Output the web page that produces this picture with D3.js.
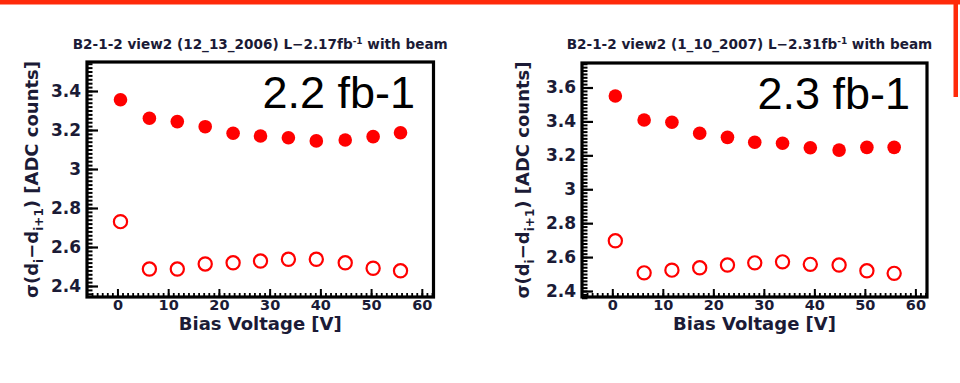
<!DOCTYPE html>
<html>
<head>
<meta charset="utf-8">
<script src="https://cdn.jsdelivr.net/npm/d3@7"></script>
<style>
  html, body { margin: 0; padding: 0; background: #fff; }
  svg { display: block; }
  .tick text { font-family: "DejaVu Sans", sans-serif; font-weight: bold; fill: #1b1b36; }
</style>
</head>
<body>
<svg id="chart" width="960" height="383"></svg>
<script>
// Bias scan points (V), shared by both runs
const biasVoltage = [0.6, 6.3, 11.8, 17.3, 22.8, 28.2, 33.7, 39.2, 44.9, 50.4, 55.8];

// Run 12_13_2006 (2.17 fb^-1): noise width, filled and open markers
const noiseFilledRun1 = [3.355, 3.26, 3.243, 3.217, 3.183, 3.169, 3.16, 3.144, 3.149, 3.166, 3.186];
const noiseOpenRun1   = [2.73, 2.487, 2.487, 2.513, 2.519, 2.528, 2.537, 2.537, 2.519, 2.491, 2.478];

// Run 1_10_2007 (2.31 fb^-1)
const noiseFilledRun2 = [3.55, 3.408, 3.395, 3.33, 3.306, 3.277, 3.271, 3.245, 3.231, 3.247, 3.247];
const noiseOpenRun2   = [2.696, 2.507, 2.523, 2.537, 2.553, 2.566, 2.572, 2.557, 2.553, 2.519, 2.504];

// Tick labels
const xTickValues = [0, 10, 20, 30, 40, 50, 60];
const yTickValuesRun1 = [2.4, 2.6, 2.8, 3.0, 3.2, 3.4];
const yTickValuesRun2 = [2.4, 2.6, 2.8, 3.0, 3.2, 3.4, 3.6];

// Panel texts
const titlesMain = ["B2-1-2 view2 (12_13_2006) L\u22122.17fb", "B2-1-2 view2 (1_10_2007) L\u22122.31fb"];
const titleTail = " with beam";
const lumiLabels = ["2.2 fb-1", "2.3 fb-1"];
const xAxisTitle = "Bias Voltage [V]";

const svg = d3.select("#chart");
const ink = "#1b1b36";
const red = "#ff0000";

// Slide decoration: red rule along the top and right edge
svg.append("rect").attr("x", 0).attr("y", 0).attr("width", 960).attr("height", 4.5).attr("fill", "#ff2a0a");
svg.append("rect").attr("x", 953.5).attr("y", 0).attr("width", 4.5).attr("height", 97).attr("fill", "#ff2a0a");

function range(a, b, step) {
  const out = [];
  for (let v = a; v <= b + 1e-9; v += step) out.push(+v.toFixed(4));
  return out;
}

function drawPanel(p) {
  const g = svg.append("g");
  const x = d3.scaleLinear().domain(p.xDomain).range([p.left, p.right]);
  const y = d3.scaleLinear().domain(p.yDomain).range([p.bottom, p.top]);

  // minor ticks
  g.append("g").attr("transform", `translate(${p.left},0)`)
    .call(d3.axisLeft(y).tickValues(range(2.36, p.yDomain[1], 0.02)).tickSize(-5.5).tickFormat(""))
    .call(a => a.select(".domain").remove())
    .call(a => a.selectAll("line").attr("stroke", "#000").attr("stroke-width", 2));
  g.append("g").attr("transform", `translate(0,${p.bottom})`)
    .call(d3.axisBottom(x).tickValues(range(-5, 62, 1)).tickSize(-4).tickFormat(""))
    .call(a => a.select(".domain").remove())
    .call(a => a.selectAll("line").attr("stroke", "#000").attr("stroke-width", 1.8));

  // major ticks with labels
  g.append("g").attr("transform", `translate(${p.left},0)`)
    .call(d3.axisLeft(y).tickValues(p.yTicks).tickSize(-11).tickPadding(6).tickFormat(d3.format("~g")))
    .call(a => a.select(".domain").remove())
    .call(a => a.selectAll("line").attr("stroke", "#000").attr("stroke-width", 2.2))
    .call(a => a.selectAll("text").style("font-size", "17px"));
  g.append("g").attr("transform", `translate(0,${p.bottom})`)
    .call(d3.axisBottom(x).tickValues(xTickValues).tickSize(-8).tickPadding(3))
    .call(a => a.select(".domain").remove())
    .call(a => a.selectAll("line").attr("stroke", "#000").attr("stroke-width", 2))
    .call(a => a.selectAll("text").style("font-size", "14.5px"));

  // frame
  g.append("rect")
    .attr("x", p.left).attr("y", p.top)
    .attr("width", p.right - p.left).attr("height", p.bottom - p.top)
    .attr("fill", "none").attr("stroke", "#000").attr("stroke-width", 3.2);

  // filled markers
  g.append("g").selectAll("circle").data(p.filled).join("circle")
    .attr("cx", (d, i) => x(biasVoltage[i]))
    .attr("cy", d => y(d))
    .attr("r", 6.8)
    .attr("fill", red);

  // open markers
  g.append("g").selectAll("circle").data(p.open).join("circle")
    .attr("cx", (d, i) => x(biasVoltage[i]))
    .attr("cy", d => y(d))
    .attr("r", 6.6)
    .attr("fill", "none")
    .attr("stroke", red)
    .attr("stroke-width", 2.2);

  // title
  const t = g.append("text")
    .attr("x", (p.left + p.right) / 2 + p.titleShift).attr("y", 49)
    .attr("text-anchor", "middle")
    .attr("font-family", "DejaVu Sans, sans-serif").attr("font-weight", "bold")
    .attr("font-size", 13.6).attr("fill", ink);
  t.append("tspan").text(p.title);
  t.append("tspan").attr("dy", -5).attr("font-size", 9).text("-1");
  t.append("tspan").attr("dy", 5).text(titleTail);

  // x-axis title
  g.append("text")
    .attr("x", (p.left + p.right) / 2).attr("y", 330)
    .attr("text-anchor", "middle")
    .attr("font-family", "DejaVu Sans, sans-serif").attr("font-weight", "bold")
    .attr("font-size", 18).attr("fill", ink)
    .text(xAxisTitle);

  // y-axis title
  const yl = g.append("text")
    .attr("transform", `translate(${p.yTitleX},${(p.top + p.bottom) / 2}) rotate(-90)`)
    .attr("text-anchor", "middle")
    .attr("font-family", "DejaVu Sans, sans-serif").attr("font-weight", "bold")
    .attr("font-size", 18).attr("fill", ink);
  yl.append("tspan").text("\u03c3(d");
  yl.append("tspan").attr("dy", 5).attr("font-size", 12).text("i");
  yl.append("tspan").attr("dy", -5).text("\u2212d");
  yl.append("tspan").attr("dy", 5).attr("font-size", 12).text("i+1");
  yl.append("tspan").attr("dy", -5).text(") [ADC counts]");

  // luminosity label
  g.append("text")
    .attr("x", p.lumiX).attr("y", p.lumiY)
    .attr("text-anchor", "end")
    .attr("font-family", "Liberation Sans, Arial, sans-serif")
    .attr("font-size", 45).attr("fill", "#000")
    .text(p.lumi);
}

drawPanel({
  left: 87, right: 433.5, top: 62, bottom: 297,
  xDomain: [-6, 62.3], yDomain: [2.3436, 3.5487],
  yTicks: yTickValuesRun1,
  filled: noiseFilledRun1, open: noiseOpenRun1,
  title: titlesMain[0], titleShift: 0, lumi: lumiLabels[0], lumiX: 415, lumiY: 108,
  yTitleX: 38
});

drawPanel({
  left: 582, right: 927, top: 63, bottom: 297,
  xDomain: [-6, 62.3], yDomain: [2.3646, 3.7445],
  yTicks: yTickValuesRun2,
  filled: noiseFilledRun2, open: noiseOpenRun2,
  title: titlesMain[1], titleShift: -5, lumi: lumiLabels[1], lumiX: 910, lumiY: 109,
  yTitleX: 529
});
</script>
</body>
</html>
